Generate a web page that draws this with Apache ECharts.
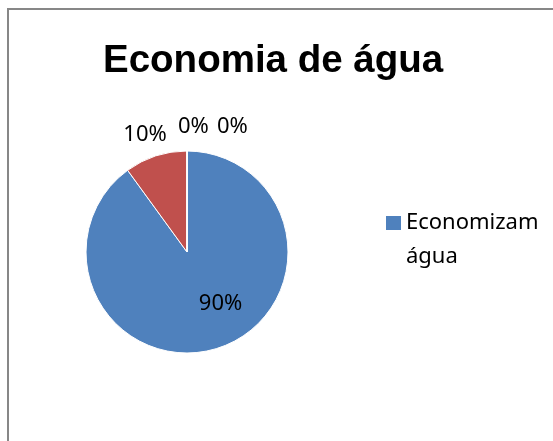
<!DOCTYPE html>
<html>
<head>
<meta charset="utf-8">
<script src="https://cdn.jsdelivr.net/npm/echarts@6/dist/echarts.min.js"></script>
<style>html,body{margin:0;padding:0;background:#fff;}#c{width:553px;height:441px;}</style>
</head>
<body>
<div id="c"></div>
<script>
var titleText = 'Economia de água';
var categories = ['Economizam água', 'Não economizam água', 'Categoria 3', 'Categoria 4'];
var values = [90, 10, 0, 0];
var colors = ['#4F81BD', '#C0504D', '#9BBB59', '#8064A2'];
var legendItems = ['Economizam água'];

var labelOffsets = [[17, 1], [16, -21], [-14, -24], [25, -24]];

var chart = echarts.init(document.getElementById('c'));
chart.setOption({
  animation: false,
  color: colors,
  graphic: [{
    type: 'rect', silent: true, z: -1,
    shape: { x: 8, y: 9, width: 560, height: 450 },
    style: { fill: '#fff', stroke: '#878787', lineWidth: 2 }
  }],
  title: {
    text: titleText,
    left: 98, top: 37,
    textStyle: { fontFamily: 'Liberation Sans', fontWeight: 'bold', fontSize: 38.5, color: '#000' }
  },
  legend: {
    data: legendItems,
    orient: 'vertical',
    left: 381, top: 173,
    itemWidth: 15, itemHeight: 14, itemGap: 10,
    icon: 'rect',
    itemStyle: { borderWidth: 0 },
    formatter: function (n) {
      var parts = n.split(' ');
      return '{e| }\n{a|' + parts[0] + '}\n{a|' + parts.slice(1).join(' ') + '}';
    },
    textStyle: {
      fontFamily: 'Noto Sans', fontSize: 22, color: '#000',
      rich: {
        e: { lineHeight: 34, fontSize: 22, fontFamily: 'Noto Sans' },
        a: { lineHeight: 34, fontSize: 22, fontFamily: 'Noto Sans', color: '#000' }
      }
    }
  },
  series: [{
    type: 'pie',
    center: [187, 252],
    radius: 101,
    startAngle: 90,
    clockwise: true,
    avoidLabelOverlap: false,
    minShowLabelAngle: 0,
    itemStyle: { borderColor: '#fff', borderWidth: 1 },
    label: {
      show: true,
      position: 'outside',
      formatter: function (p) { return p.value + '%'; },
      fontFamily: 'Noto Sans', fontSize: 22, color: '#000',
      distanceToLabelLine: 5
    },
    labelLine: { show: false, length: 0, length2: 0 },
    labelLayout: function (p) {
      var o = labelOffsets[p.dataIndex];
      return { dx: o[0], dy: o[1] };
    },
    data: categories.map(function (c, i) {
      var d = { name: c, value: values[i] };
      if (i === 0) d.label = { position: 'inside' };
      return d;
    })
  }]
});
</script>
</body>
</html>
